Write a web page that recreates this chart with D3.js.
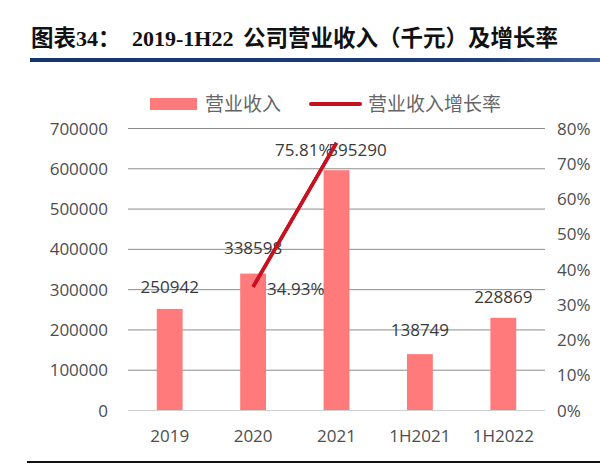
<!DOCTYPE html>
<html><head><meta charset="utf-8">
<script src="https://cdn.jsdelivr.net/npm/d3@7"></script>
<style>body{margin:0;background:#fff}svg{display:block}</style>
</head><body>
<script>
const categories = ["2019","2020","2021","1H2021","1H2022"];
const revenue = [250942, 338598, 595290, 138749, 228869];
const growth = [null, 0.3493, 0.7581, null, null];
const growthLabels = [null, "34.93%", "75.81%", null, null];
const leftTicks = [0,100000,200000,300000,400000,500000,600000,700000];
const rightTicks = [0,0.1,0.2,0.3,0.4,0.5,0.6,0.7,0.8];
const seriesNames = ["营业收入","营业收入增长率"];

const W=600,H=475;
const svg=d3.select("body").append("svg").attr("width",W).attr("height",H);
const numFont="'Open Sans','Noto Sans',sans-serif";
const cjk="'Noto Sans CJK SC',sans-serif";
const serif="'Liberation Serif',serif";

// title
const t=svg.append("text").attr("y",46).attr("font-size",22.5).attr("font-weight","bold").attr("fill","#111");
t.append("tspan").attr("x",31).attr("font-family",cjk).text("图表");
t.append("tspan").attr("font-family",serif).attr("font-size",22).text("34");
t.append("tspan").attr("font-family",cjk).text("：");
t.append("tspan").attr("x",132).attr("font-family",serif).attr("font-size",22).text("2019-1H22");
t.append("tspan").attr("x",243).attr("font-family",cjk).text("公司营业收入（千元）及增长率");

const grad=svg.append("defs").append("linearGradient").attr("id","bg");
grad.append("stop").attr("offset","0%").attr("stop-color","#16336b");
grad.append("stop").attr("offset","80%").attr("stop-color","#1d3f7c");
grad.append("stop").attr("offset","100%").attr("stop-color","#3a5c95");
svg.append("rect").attr("x",30).attr("y",58).attr("width",570).attr("height",4).attr("fill","url(#bg)");
svg.append("rect").attr("x",27).attr("y",461).attr("width",573).attr("height",2).attr("fill","#111");

const x=d3.scaleBand().domain(categories).range([128,545]).paddingInner(0.69).paddingOuter(0.345);
const yL=d3.scaleLinear().domain([0,700000]).range([410,128]);
const yR=d3.scaleLinear().domain([0,0.8]).range([410,128]);

// gridlines
svg.append("g").selectAll("line").data(leftTicks).join("line")
  .attr("x1",128).attr("x2",545).attr("y1",d=>yL(d)+0.5).attr("y2",d=>yL(d)+0.5)
  .attr("stroke",d=>d===0?"#d0d0d0":"#8c8c8c").attr("stroke-width",1);

// left axis
const ax=d3.axisLeft(yL).tickValues(leftTicks).tickSize(0).tickPadding(0).tickFormat(d3.format("d"));
const gL=svg.append("g").attr("transform","translate(108,0)").call(ax);
gL.select(".domain").remove();
gL.selectAll("text").attr("font-family",numFont).attr("font-size",17).attr("fill","#4d4d4d").attr("dy","0.36em");

const axR=d3.axisRight(yR).tickValues(rightTicks).tickSize(0).tickPadding(0).tickFormat(d3.format(".0%"));
const gR=svg.append("g").attr("transform","translate(557,0)").call(axR);
gR.select(".domain").remove();
gR.selectAll("text").attr("font-family",numFont).attr("font-size",17).attr("fill","#4d4d4d").attr("dy","0.36em");

const axB=d3.axisBottom(x).tickSize(0).tickPadding(0);
const gB=svg.append("g").attr("transform","translate(0,430)").call(axB);
gB.select(".domain").remove();
gB.selectAll("text").attr("font-family",numFont).attr("font-size",17).attr("fill","#4d4d4d").attr("dy","0.71em");

// bars
svg.append("g").selectAll("rect").data(revenue).join("rect")
  .attr("x",(d,i)=>x(categories[i])).attr("width",x.bandwidth())
  .attr("y",d=>yL(d)).attr("height",d=>yL(0)-yL(d)).attr("fill","#ff7b7b");

// line
const pts=growth.map((g,i)=>({g,c:categories[i]})).filter(d=>d.g!==null);
svg.append("path").datum(pts)
  .attr("d",d3.line().x(d=>x(d.c)+x.bandwidth()/2).y(d=>yR(d.g)))
  .attr("fill","none").attr("stroke","#c8101e").attr("stroke-width",3.5);

// bar labels
const barLabOff=[{dx:0,dy:-22},{dx:0,dy:-26},{dx:21,dy:-20},{dx:0,dy:-24},{dx:0,dy:-21}];
svg.append("g").selectAll("text").data(revenue).join("text")
  .attr("x",(d,i)=>x(categories[i])+x.bandwidth()/2+barLabOff[i].dx)
  .attr("y",(d,i)=>yL(d)+barLabOff[i].dy)
  .attr("dy","0.36em").attr("text-anchor","middle")
  .attr("font-family",numFont).attr("font-size",17).attr("fill","#3a3a3a").text(d=>d);

// growth labels
const gOff=[null,{dx:14,dy:2,a:"start"},{dx:-4,dy:7,a:"end"}];
svg.append("g").selectAll("text").data(pts).join("text")
  .attr("x",d=>x(d.c)+x.bandwidth()/2+gOff[categories.indexOf(d.c)].dx)
  .attr("y",d=>yR(d.g)+gOff[categories.indexOf(d.c)].dy)
  .attr("dy","0.36em").attr("text-anchor",d=>gOff[categories.indexOf(d.c)].a)
  .attr("font-family",numFont).attr("font-size",17).attr("fill","#3a3a3a")
  .text(d=>growthLabels[categories.indexOf(d.c)]);

// line drawn over the 2021 label in the reference
svg.append("path").datum(pts)
  .attr("d",d3.line().x(d=>x(d.c)+x.bandwidth()/2).y(d=>yR(d.g)))
  .attr("fill","none").attr("stroke","#c8101e").attr("stroke-width",3.5);

// legend
const lg=svg.append("g");
lg.append("rect").attr("x",150).attr("y",98).attr("width",47).attr("height",12).attr("fill","#ff7b7b");
lg.append("text").attr("x",205).attr("y",104).attr("dy","0.36em").attr("font-family",cjk).attr("font-size",19).attr("fill","#666").text(seriesNames[0]);
lg.append("line").attr("x1",311).attr("x2",360).attr("y1",104).attr("y2",104).attr("stroke","#c8101e").attr("stroke-width",4).attr("stroke-linecap","round");
lg.append("text").attr("x",368).attr("y",104).attr("dy","0.36em").attr("font-family",cjk).attr("font-size",19).attr("fill","#666").text(seriesNames[1]);
</script>
</body></html>
